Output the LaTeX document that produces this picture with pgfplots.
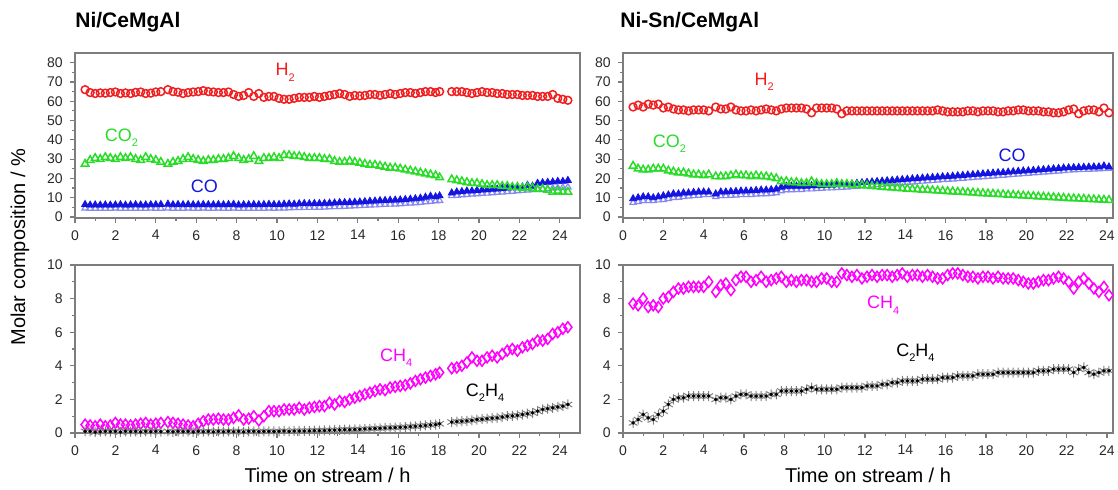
\documentclass[border=0pt]{standalone}
\usepackage{fontspec}
\setmainfont{Liberation Sans}
\usepackage{pgfplots}
\usepackage{pgfplotstable}
\pgfplotsset{compat=1.18}

\definecolor{cHtwo}{RGB}{240,30,30}
\definecolor{cCOtwo}{RGB}{40,220,40}
\definecolor{cCO}{RGB}{20,20,225}
\definecolor{cCOo}{RGB}{135,135,240}
\definecolor{cCHf}{RGB}{255,0,255}
\definecolor{axgray}{RGB}{125,125,125}
\definecolor{lblgray}{RGB}{40,40,40}

% columns: time, H2, CO2, CO (filled), CO (open), CH4, C2H4
\pgfplotstableread{
t H2 CO2 CO COo CH4 C2H4
0.50 66.0 27.5 6.5 4.6 0.50 0.10
0.75 64.5 29.5 6.2 4.5 0.45 0.10
1.00 64.0 30.5 6.3 4.5 0.40 0.05
1.25 64.3 30.0 6.2 4.4 0.50 0.08
1.50 64.2 31.0 6.3 4.5 0.40 0.10
1.75 64.5 30.5 6.2 4.5 0.45 0.08
2.00 64.8 30.0 6.3 4.6 0.60 0.10
2.25 64.0 31.0 6.4 4.5 0.50 0.06
2.50 64.3 30.5 6.2 4.5 0.50 0.10
2.75 64.0 31.0 6.3 4.4 0.45 0.08
3.00 64.6 30.0 6.4 4.5 0.50 0.10
3.25 64.8 29.5 6.3 4.5 0.55 0.07
3.50 64.0 31.0 6.3 4.5 0.60 0.10
3.75 64.2 30.0 6.4 4.6 0.50 0.08
4.00 64.8 29.5 6.4 4.5 0.55 0.10
4.25 65.0 28.5 6.5 4.5 0.60 0.08
4.60 66.0 27.5 6.7 4.6 0.65 0.10
4.85 65.0 28.5 6.4 4.5 0.60 0.07
5.10 64.7 29.0 6.5 4.5 0.55 0.10
5.35 64.0 30.0 6.4 4.5 0.50 0.08
5.60 64.5 31.0 6.5 4.6 0.45 0.10
5.85 64.8 30.0 6.4 4.5 0.40 0.06
6.10 65.0 29.5 6.4 4.5 0.55 0.10
6.35 65.5 29.0 6.5 4.6 0.70 0.08
6.60 65.0 29.5 6.4 4.5 0.80 0.10
6.85 64.8 29.5 6.4 4.5 0.80 0.07
7.10 64.5 30.0 6.5 4.6 0.85 0.10
7.35 64.5 30.0 6.4 4.5 0.80 0.08
7.60 64.8 30.5 6.5 4.5 0.80 0.10
7.85 63.5 31.5 6.6 4.6 0.90 0.08
8.10 62.5 30.5 6.3 4.5 1.05 0.10
8.35 63.0 29.5 6.4 4.4 0.80 0.07
8.60 64.5 30.0 6.4 4.5 0.85 0.10
8.85 62.5 31.5 6.5 4.5 1.00 0.10
9.10 64.0 29.0 6.4 4.5 0.75 0.08
9.35 62.0 30.5 6.5 4.5 1.00 0.10
9.60 62.5 30.5 6.6 4.6 1.30 0.10
9.85 62.5 31.0 6.5 4.5 1.30 0.09
10.10 61.5 30.5 6.5 4.6 1.30 0.10
10.35 61.0 32.0 6.7 4.6 1.40 0.12
10.60 61.0 32.0 6.8 4.7 1.40 0.10
10.85 61.5 31.5 6.7 4.8 1.40 0.12
11.10 62.0 31.5 6.9 4.8 1.50 0.12
11.35 62.0 31.0 7.0 4.9 1.40 0.12
11.60 62.0 30.5 6.9 4.9 1.50 0.13
11.85 62.5 30.5 7.0 5.0 1.55 0.14
12.10 62.0 30.5 7.0 5.0 1.60 0.14
12.35 62.5 30.0 7.1 5.1 1.60 0.15
12.60 63.0 30.0 7.2 5.2 1.80 0.16
12.85 63.5 29.0 7.3 5.3 1.70 0.17
13.10 64.0 28.5 7.5 5.4 1.90 0.18
13.35 63.5 28.5 7.5 5.5 1.85 0.20
13.60 62.5 29.0 7.6 5.6 2.00 0.20
13.85 63.0 28.5 7.7 5.7 2.10 0.21
14.10 62.8 28.0 7.8 5.8 2.20 0.22
14.35 63.0 27.5 8.0 6.0 2.30 0.24
14.60 63.5 27.0 8.2 6.1 2.40 0.25
14.85 63.5 27.0 8.3 6.2 2.50 0.27
15.10 63.0 26.5 8.5 6.4 2.60 0.28
15.35 63.5 26.0 8.6 6.5 2.55 0.30
15.60 64.0 25.5 8.7 6.6 2.70 0.31
15.85 63.5 25.5 8.8 6.7 2.75 0.32
16.10 64.0 25.0 8.9 6.8 2.80 0.34
16.35 64.5 24.5 9.1 7.0 2.85 0.35
16.60 64.5 24.0 9.3 7.2 2.95 0.38
16.85 64.0 23.5 9.5 7.3 3.10 0.40
17.10 64.5 23.0 9.8 7.6 3.20 0.42
17.35 65.0 22.5 10.3 7.8 3.30 0.45
17.60 65.0 22.0 10.8 8.1 3.40 0.48
17.85 64.5 21.5 10.5 8.3 3.50 0.50
18.05 65.0 20.5 11.0 8.5 3.60 0.55
18.65 65.0 19.5 12.5 11.0 3.85 0.65
18.90 65.0 19.0 13.0 11.2 3.90 0.68
19.15 65.0 18.5 13.2 11.4 4.00 0.70
19.40 64.5 18.0 13.5 11.6 4.20 0.72
19.65 64.0 17.5 13.5 11.8 4.50 0.75
19.90 64.5 17.5 13.8 12.0 4.30 0.80
20.15 65.0 17.0 14.0 12.2 4.30 0.82
20.40 64.5 16.5 14.2 12.3 4.50 0.85
20.65 64.5 16.5 14.4 12.5 4.60 0.88
20.90 64.0 16.5 14.5 12.7 4.50 0.90
21.15 64.0 16.0 14.8 12.9 4.70 0.95
21.40 63.5 16.0 15.0 13.1 4.90 1.00
21.65 63.5 15.5 15.2 13.3 5.00 1.02
21.90 63.5 15.5 15.4 13.5 4.90 1.05
22.15 63.0 15.0 15.6 13.7 5.10 1.10
22.40 63.0 15.5 16.5 13.9 5.20 1.15
22.65 63.0 15.0 16.0 14.1 5.30 1.20
22.90 62.5 14.5 17.5 14.3 5.50 1.30
23.15 62.5 14.5 17.8 14.5 5.50 1.40
23.40 62.5 14.0 18.0 14.7 5.60 1.45
23.65 63.5 13.0 18.2 14.9 5.90 1.50
23.90 61.5 13.5 18.5 15.1 6.00 1.55
24.15 61.0 13.0 18.5 15.3 6.20 1.60
24.40 60.5 13.0 19.0 15.5 6.30 1.70
}\nidata

\pgfplotstableread{
t H2 CO2 CO COo CH4 C2H4
0.50 57.0 26.5 9.5 7.5 7.7 0.6
0.75 58.0 25.0 10.0 8.0 7.6 0.8
1.00 57.0 24.5 10.5 8.5 8.0 1.1
1.25 58.5 24.5 10.5 8.5 7.5 0.9
1.50 58.0 25.0 10.0 8.5 7.6 0.8
1.75 58.5 25.0 10.5 8.8 7.5 1.1
2.00 56.5 25.0 11.0 9.0 8.0 1.3
2.25 57.0 24.0 11.5 9.5 8.1 1.7
2.50 56.0 23.5 12.0 10.0 8.4 2.0
2.75 55.5 23.0 12.0 10.2 8.6 2.1
3.00 55.5 23.0 12.5 10.5 8.6 2.1
3.25 55.0 22.5 12.5 10.8 8.7 2.2
3.50 55.5 22.0 12.8 11.0 8.7 2.2
3.75 55.5 22.0 13.0 11.2 8.7 2.2
4.00 55.5 21.5 13.0 11.5 8.7 2.2
4.25 55.0 22.0 13.0 11.5 9.0 2.2
4.60 57.0 21.0 12.0 10.5 8.4 2.0
4.85 56.0 21.0 13.0 11.0 8.8 2.1
5.10 56.0 21.0 13.0 11.0 8.9 2.1
5.35 57.0 21.5 13.2 11.2 8.5 2.0
5.60 55.5 22.0 13.3 11.3 9.1 2.2
5.85 55.0 21.5 13.5 11.5 9.3 2.3
6.10 55.0 21.5 13.5 11.5 9.3 2.3
6.35 55.5 21.0 13.6 11.6 9.0 2.2
6.60 55.0 21.5 13.8 11.8 9.1 2.2
6.85 55.5 21.0 14.0 12.0 9.3 2.2
7.10 56.0 21.0 14.0 12.0 9.0 2.2
7.35 55.5 20.5 14.2 12.2 9.1 2.3
7.60 55.0 20.0 14.5 12.5 9.2 2.3
7.85 56.0 18.5 15.5 13.5 9.3 2.5
8.10 56.5 18.5 16.0 14.0 9.0 2.5
8.35 56.5 18.0 16.0 14.0 9.1 2.5
8.60 56.5 18.0 16.0 14.2 9.0 2.5
8.85 56.5 17.5 16.0 14.2 9.1 2.5
9.10 56.0 17.5 16.0 14.5 9.1 2.6
9.35 54.0 18.5 16.2 14.5 9.0 2.7
9.60 56.5 17.5 16.2 14.7 9.0 2.6
9.85 56.5 17.0 16.3 14.8 9.2 2.6
10.10 56.5 17.0 16.5 15.0 9.2 2.6
10.35 56.5 17.0 16.6 15.0 9.0 2.6
10.60 56.0 17.5 16.8 15.2 9.0 2.6
10.85 53.5 17.0 17.0 15.3 9.5 2.7
11.10 55.0 17.0 17.0 15.5 9.4 2.7
11.35 55.0 16.8 17.2 15.7 9.3 2.7
11.60 55.0 16.5 17.5 15.9 9.4 2.7
11.85 55.0 16.5 17.8 16.1 9.2 2.7
12.10 55.0 16.2 18.0 16.3 9.3 2.8
12.35 55.0 16.0 18.2 16.5 9.4 2.8
12.60 55.0 15.8 18.4 16.7 9.3 2.8
12.85 55.0 15.6 18.6 16.9 9.4 2.9
13.10 55.0 15.4 18.8 17.1 9.4 2.9
13.35 55.0 15.2 19.0 17.3 9.3 3.0
13.60 55.0 15.0 19.2 17.5 9.4 3.0
13.85 55.0 14.8 19.4 17.7 9.5 3.1
14.10 55.0 14.6 19.6 17.9 9.3 3.1
14.35 55.0 14.4 19.8 18.1 9.4 3.1
14.60 55.0 14.3 20.0 18.3 9.4 3.1
14.85 55.0 14.1 20.2 18.5 9.3 3.2
15.10 55.0 14.0 20.4 18.7 9.4 3.2
15.35 55.0 13.8 20.5 18.9 9.3 3.2
15.60 55.5 13.6 20.7 19.1 9.2 3.2
15.85 55.0 13.5 20.9 19.3 9.2 3.3
16.10 54.5 13.3 21.0 19.5 9.4 3.3
16.35 54.5 13.2 21.2 19.6 9.5 3.3
16.60 54.5 13.0 21.4 19.8 9.5 3.4
16.85 54.5 12.9 21.6 20.0 9.4 3.4
17.10 55.0 12.7 21.8 20.2 9.3 3.4
17.35 55.0 12.6 22.0 20.4 9.3 3.4
17.60 54.5 12.4 22.2 20.6 9.2 3.5
17.85 55.0 12.3 22.4 20.8 9.3 3.5
18.10 55.0 12.1 22.6 21.0 9.3 3.5
18.35 55.0 12.0 22.8 21.2 9.2 3.5
18.60 54.5 11.8 23.0 21.4 9.3 3.6
18.85 54.5 11.7 23.1 21.6 9.2 3.6
19.10 55.0 11.5 23.3 21.8 9.2 3.6
19.35 55.0 11.4 23.5 22.0 9.2 3.6
19.60 55.5 11.2 23.7 22.2 9.1 3.6
19.85 55.5 11.1 23.9 22.4 9.0 3.6
20.10 55.0 10.9 24.0 22.6 8.9 3.6
20.35 55.0 10.8 24.2 22.8 8.9 3.6
20.60 55.0 10.6 24.4 23.0 9.0 3.7
20.85 54.5 10.5 24.6 23.2 9.1 3.7
21.10 54.5 10.3 24.8 23.4 9.1 3.7
21.35 54.0 10.2 25.0 23.6 9.2 3.8
21.60 54.0 10.0 25.2 23.8 9.3 3.8
21.85 54.5 9.9 25.4 24.0 9.2 3.8
22.10 55.5 9.7 25.5 24.2 9.0 3.8
22.35 56.0 9.6 25.6 24.4 8.6 3.6
22.60 53.5 9.5 25.7 24.5 9.0 3.8
22.85 55.0 9.4 25.8 24.6 9.2 3.9
23.10 55.5 9.2 25.9 24.7 8.9 3.6
23.35 55.5 9.1 26.0 24.8 8.6 3.5
23.60 54.5 9.0 26.0 24.9 8.4 3.6
23.85 56.5 8.9 26.5 25.0 8.7 3.7
24.10 54.0 8.8 26.0 25.2 8.2 3.7
}\nisndata

\newcommand{\lblfont}{\fontsize{9}{10}\selectfont}
\newcommand{\sub}[1]{\raisebox{-0.55ex}{\fontsize{5.5}{6}\selectfont #1}}

\pgfplotsset{
  panel/.style={
    scale only axis,
    xmin=0,
    axis line style={draw=axgray, line width=0.6pt},
    tick style={draw=axgray, line width=0.6pt},
    tick align=outside,
    tick pos=left,
    major tick length=2.6pt,
    minor tick length=1.5pt,
    xtick={0,2,...,24},
    minor x tick num=1,
    ticklabel style={font=\fontsize{7}{8}\selectfont, text=lblgray},
    /pgf/number format/assume math mode=true,
    every axis x label/.style={at={(axis description cs:0.5,0)}, anchor=center, yshift=-21pt, font=\fontsize{10}{12}\selectfont},
  },
  toppanel/.style={panel, height=82.5pt, ymin=-0.5, ymax=85,
    ytick={0,10,...,80}, minor y tick num=1},
  botpanel/.style={panel, height=84pt, ymin=0, ymax=10,
    ytick={0,2,...,10}, minor y tick num=1, xlabel={Time on stream / h}},
  hh/.style={only marks, mark=o, mark size=1.95pt, cHtwo, line width=0.75pt},
  cotwo/.style={only marks, mark=triangle, mark size=2.2pt, cCOtwo, line width=0.75pt},
  coopen/.style={only marks, mark=triangle, mark size=1.8pt, cCOo, line width=0.6pt},
  cofill/.style={only marks, mark=triangle*, mark size=2.0pt, cCO, line width=0.4pt},
  chf/.style={only marks, mark=diamond, mark size=2.7pt, cCHf, line width=0.75pt},
  ctwo/.style={only marks, mark=asterisk, mark size=2.5pt, black!50, line width=0.5pt},
  ctwoc/.style={only marks, mark=*, mark size=0.65pt, black},
}

\begin{document}
\begin{tikzpicture}
\path[use as bounding box] (0,0) rectangle (559pt,244.5pt);

% Ni/CeMgAl, top
\begin{axis}[toppanel, at={(37.5pt,135.5pt)}, anchor=south west, width=252.5pt, xmax=25]
\addplot[coopen] table[x=t, y=COo] {\nidata};
\addplot[cofill] table[x=t, y=CO] {\nidata};
\addplot[cotwo] table[x=t, y=CO2] {\nidata};
\addplot[hh] table[x=t, y=H2] {\nidata};
\node[text=cHtwo, font=\lblfont] at (axis cs:10.4,75) {H\sub{2}};
\node[text=cCOtwo, font=\lblfont] at (axis cs:2.3,41) {CO\sub{2}};
\node[text=cCO, font=\lblfont] at (axis cs:6.4,16) {CO};
\end{axis}

% Ni/CeMgAl, bottom
\begin{axis}[botpanel, at={(37.5pt,28pt)}, anchor=south west, width=252.5pt, xmax=25]
\addplot[chf] table[x=t, y=CH4] {\nidata};
\addplot[ctwo] table[x=t, y=C2H4] {\nidata};
\addplot[ctwoc] table[x=t, y=C2H4] {\nidata};
\node[text=cCHf, font=\lblfont] at (axis cs:15.9,4.5) {CH\sub{4}};
\node[text=black, font=\lblfont] at (axis cs:20.3,2.4) {C\sub{2}H\sub{4}};
\end{axis}

% Ni-Sn/CeMgAl, top
\begin{axis}[toppanel, at={(311.5pt,135.5pt)}, anchor=south west, width=245pt, xmax=24.3]
\addplot[coopen] table[x=t, y=COo] {\nisndata};
\addplot[cofill] table[x=t, y=CO] {\nisndata};
\addplot[cotwo] table[x=t, y=CO2] {\nisndata};
\addplot[hh] table[x=t, y=H2] {\nisndata};
\node[text=cHtwo, font=\lblfont] at (axis cs:7.0,70) {H\sub{2}};
\node[text=cCOtwo, font=\lblfont] at (axis cs:2.3,38) {CO\sub{2}};
\node[text=cCO, font=\lblfont] at (axis cs:19.3,32) {CO};
\end{axis}

% Ni-Sn/CeMgAl, bottom
\begin{axis}[botpanel, at={(311.5pt,28pt)}, anchor=south west, width=245pt, xmax=24.3]
\addplot[chf] table[x=t, y=CH4] {\nisndata};
\addplot[ctwo] table[x=t, y=C2H4] {\nisndata};
\addplot[ctwoc] table[x=t, y=C2H4] {\nisndata};
\node[text=cCHf, font=\lblfont] at (axis cs:12.9,7.6) {CH\sub{4}};
\node[text=black, font=\lblfont] at (axis cs:14.5,4.8) {C\sub{2}H\sub{4}};
\end{axis}

\node[anchor=west, font=\bfseries\fontsize{10.5}{12}\selectfont, inner sep=0pt] at (37.5pt,233.5pt) {Ni/CeMgAl};
\node[anchor=west, font=\bfseries\fontsize{10.5}{12}\selectfont, inner sep=0pt] at (310pt,233.5pt) {Ni-Sn/CeMgAl};
\node[rotate=90, font=\fontsize{10}{12}\selectfont] at (10pt,121pt) {Molar composition / \%};
\end{tikzpicture}
\end{document}
